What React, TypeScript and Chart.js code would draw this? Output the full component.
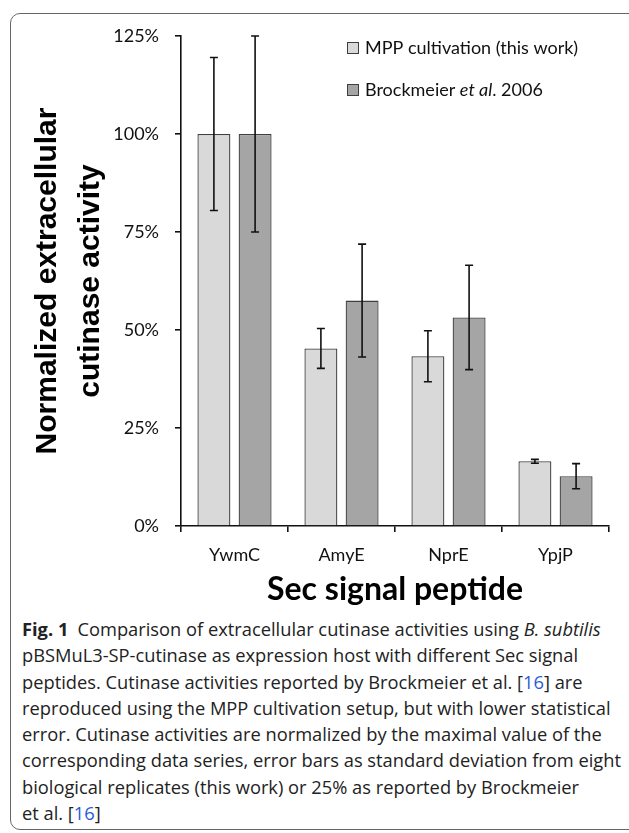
import React, { useEffect, useRef } from "react";
import { Chart, registerables } from "chart.js";

Chart.register(...registerables);

const categories = ["YwmC", "AmyE", "NprE", "YpjP"];
const mppValues = [100, 45.3, 43.3, 16.5];
const mppErrors = [19.5, 5.1, 6.5, 0.5];
const brockValues = [100, 57.5, 53.2, 12.7];
const brockErrors = [25, 14.4, 13.3, 3.2];
const yTicks = [0, 25, 50, 75, 100, 125];

const LIGHT = "#d9d9d9";
const DARK = "#a5a5a5";
const EDGE = "#3f3f3f";
const CAL = "Lato, 'Open Sans', sans-serif";

const legendItems = [
  { color: LIGHT, parts: [{ t: "MPP cultivation (this work)", i: false }] },
  {
    color: DARK,
    parts: [
      { t: "Brockmeier ", i: false },
      { t: "et al", i: true },
      { t: ". 2006", i: false },
    ],
  },
];

const errorBarPlugin = {
  id: "errorBars",
  afterDatasetsDraw(chart: any) {
    const ctx = chart.ctx;
    const ys = chart.scales.y;
    chart.data.datasets.forEach((ds: any, di: number) => {
      const meta = chart.getDatasetMeta(di);
      meta.data.forEach((el: any, i: number) => {
        const v = ds.data[i];
        const e = ds.errors[i];
        const yt = ys.getPixelForValue(v + e);
        const yb = ys.getPixelForValue(v - e);
        ctx.save();
        ctx.strokeStyle = "#111";
        ctx.lineWidth = 1.6;
        ctx.beginPath();
        ctx.moveTo(el.x, yt);
        ctx.lineTo(el.x, yb);
        ctx.moveTo(el.x - 4, yt);
        ctx.lineTo(el.x + 4, yt);
        ctx.moveTo(el.x - 4, yb);
        ctx.lineTo(el.x + 4, yb);
        ctx.stroke();
        ctx.restore();
      });
    });
  },
};

const legendPlugin = {
  id: "customLegend",
  afterDraw(chart: any, _args: any, opts: any) {
    const ctx = chart.ctx;
    const { boxX, textX, rows, box, size } = opts;
    legendItems.forEach((item, idx) => {
      const cy = rows[idx];
      ctx.save();
      ctx.fillStyle = item.color;
      ctx.strokeStyle = EDGE;
      ctx.lineWidth = 1;
      ctx.fillRect(boxX, cy - box / 2, box, box);
      ctx.strokeRect(boxX + 0.5, cy - box / 2 + 0.5, box - 1, box - 1);
      ctx.fillStyle = "#111";
      ctx.textBaseline = "middle";
      let x = textX;
      item.parts.forEach((p) => {
        ctx.font = `${p.i ? "italic " : ""}${size}px ${CAL}`;
        ctx.fillText(p.t, x, cy);
        x += ctx.measureText(p.t).width;
      });
      ctx.restore();
    });
  },
};

function BarChart() {
  const ref = useRef<HTMLCanvasElement>(null);
  useEffect(() => {
    if (!ref.current) return;
    const chart = new Chart(ref.current, {
      type: "bar",
      data: {
        labels: categories,
        datasets: [
          {
            label: "MPP cultivation (this work)",
            data: mppValues,
            errors: mppErrors,
            backgroundColor: LIGHT,
            borderColor: EDGE,
            borderWidth: 1.3,
          } as any,
          {
            label: "Brockmeier et al. 2006",
            data: brockValues,
            errors: brockErrors,
            backgroundColor: DARK,
            borderColor: EDGE,
            borderWidth: 1.3,
          } as any,
        ],
      },
      options: {
        animation: false,
        responsive: false,
        maintainAspectRatio: false,
        datasets: { bar: { categoryPercentage: 0.77, barPercentage: 0.8 } },
        layout: { padding: { top: 36, right: 20, left: 0, bottom: 0 } },
        plugins: {
          legend: { display: false },
          tooltip: { enabled: false },
          customLegend: { boxX: 347, textX: 365, rows: [48, 90], box: 12, size: 18 },
        } as any,
        scales: {
          x: {
            grid: {
              display: true,
              drawOnChartArea: false,
              drawTicks: true,
              tickLength: 6,
              color: "#111",
              lineWidth: 1.6,
              offset: true,
            },
            border: { display: true, color: "#111", width: 1.6 },
            ticks: { color: "#111", font: { family: CAL, size: 18 }, padding: 12 },
            title: {
              display: true,
              text: "Sec signal peptide",
              color: "#000",
              font: { family: CAL, size: 32, weight: "bold", lineHeight: 1.2 },
              padding: { top: 0, bottom: 6 },
            },
            afterFit(scale: any) {
              scale.height = 89;
            },
          },
          y: {
            min: 0,
            max: 125,
            afterBuildTicks(scale: any) {
              scale.ticks = yTicks.map((v) => ({ value: v }));
            },
            grid: {
              display: true,
              drawOnChartArea: false,
              drawTicks: true,
              tickLength: 6,
              color: "#111",
              lineWidth: 1.6,
            },
            border: { display: true, color: "#111", width: 1.6 },
            ticks: {
              color: "#111",
              font: { family: CAL, size: 18 },
              padding: 16,
              callback: (v: any) => `${v}%`,
            },
            title: {
              display: true,
              text: ["Normalized extracellular", "cutinase activity"],
              color: "#000",
              font: { family: "'Liberation Sans', Arial, sans-serif", size: 30, weight: "bold", lineHeight: 1.43 },
              padding: { top: 26, bottom: 0 },
            },
            afterFit(scale: any) {
              scale.width = 181;
            },
          },
        },
      },
      plugins: [errorBarPlugin, legendPlugin],
    });
    return () => chart.destroy();
  }, []);
  return (
    <canvas
      ref={ref}
      width={629}
      height={615}
      style={{ position: "absolute", left: 0, top: 0, width: 629, height: 615 }}
    />
  );
}

const blue = { color: "#2a5bd7" };
const captionLines: React.ReactNode[] = [
  <>
    <b>Fig. 1</b>
    {"\u2002Comparison of extracellular cutinase activities using "}
    <i>B. subtilis</i>
  </>,
  <>pBSMuL3-SP-cutinase as expression host with different Sec signal</>,
  <>
    peptides. Cutinase activities reported by Brockmeier et al. [<span style={blue}>16</span>] are
  </>,
  <>reproduced using the MPP cultivation setup, but with lower statistical</>,
  <>error. Cutinase activities are normalized by the maximal value of the</>,
  <>corresponding data series, error bars as standard deviation from eight</>,
  <>biological replicates (this work) or 25% as reported by Brockmeier</>,
  <>
    et al. [<span style={blue}>16</span>]
  </>,
];

export default function App() {
  return (
    <div
      style={{
        position: "absolute",
        left: 0,
        top: 0,
        width: 629,
        height: 833,
        overflow: "hidden",
        background: "#fff",
      }}
    >
      <div
        style={{
          position: "absolute",
          left: 10,
          top: 13,
          width: 660,
          height: 817,
          border: "1.5px solid #666",
          borderRadius: 10,
          boxSizing: "border-box",
        }}
      />
      <BarChart />
      <div
        style={{
          position: "absolute",
          left: 22,
          top: 616,
          fontFamily: "'Open Sans', sans-serif",
          fontSize: 18.3,
          lineHeight: "26.3px",
          color: "#222",
          whiteSpace: "nowrap",
        }}
      >
        {captionLines.map((l, i) => (
          <div key={i}>{l}</div>
        ))}
      </div>
    </div>
  );
}
